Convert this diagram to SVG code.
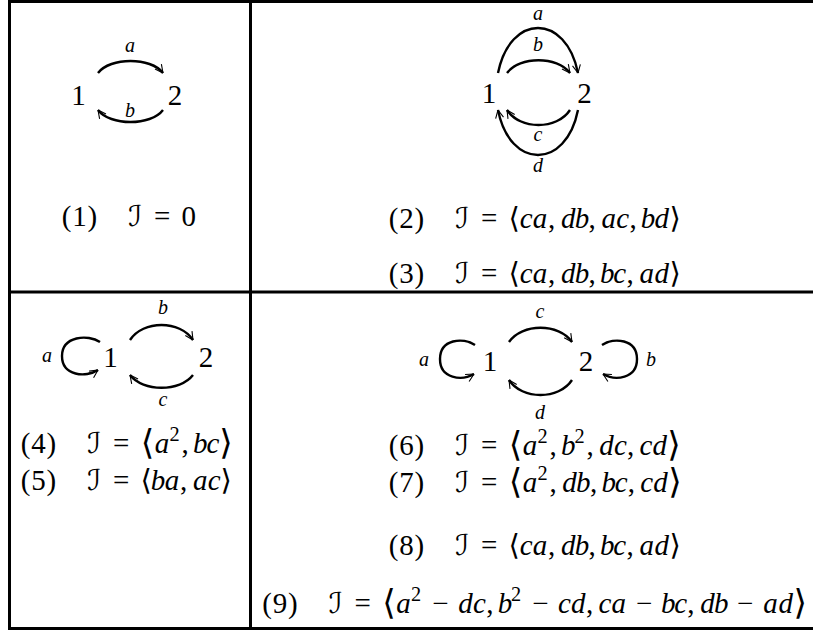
<svg xmlns="http://www.w3.org/2000/svg" width="813" height="630" viewBox="0 0 813 630">
<style>
.bg{fill:#fff}
.frame{stroke:#000;stroke-width:3;fill:none}
.arc{stroke:#000;stroke-width:2.4;fill:none;marker-end:url(#tip)}
.node{font-family:"Liberation Serif","DejaVu Serif",serif;font-size:29px;text-anchor:middle;fill:#000}
.lbl{font-family:"Liberation Serif","DejaVu Serif",serif;font-style:italic;font-size:20px;text-anchor:middle;fill:#000}
.eq{font-family:"Liberation Serif","DejaVu Serif",serif;font-size:28.5px;text-anchor:middle;fill:#000}
.v{font-style:italic}
.sup{font-size:20px}
.cal{font-family:"DejaVu Serif","DejaVu Sans",serif;font-style:italic}
.ang{font-family:"DejaVu Sans","DejaVu Serif",sans-serif;font-weight:200}
.big{font-family:"DejaVu Sans","DejaVu Serif",sans-serif;font-weight:200;font-size:34px}
</style>
<defs>
<marker id="tip" markerUnits="userSpaceOnUse" markerWidth="14" markerHeight="14" viewBox="-10 -7 12 14" refX="0" refY="0" orient="auto">
<path d="M-8,-4 Q-3,-1.5 0,0 M-8,4 Q-3,1.5 0,0" stroke="#000" stroke-width="1.1" fill="none"/>
</marker>
</defs>
<rect class="bg" x="0" y="0" width="813" height="630"/>
<g id="table">
<line class="frame" x1="8" y1="1.5" x2="813" y2="1.5"/>
<line class="frame" x1="9.5" y1="0" x2="9.5" y2="630"/>
<line class="frame" x1="250.5" y1="0" x2="250.5" y2="630"/>
<line class="frame" x1="8" y1="292" x2="813" y2="292"/>
<line class="frame" x1="8" y1="628.5" x2="813" y2="628.5"/>
</g>
<g id="connectors">
<path class="arc" d="M98,73 C110,57 151,57 163,73"/>
<path class="arc" d="M163,110 C151,126 110,126 98,110"/>
<path class="arc" d="M498,73 C510,13 566,13 578,73"/>
<path class="arc" d="M507,73 C520,56 557,56 570,73"/>
<path class="arc" d="M570,110 C557,130 520,130 507,110"/>
<path class="arc" d="M578,110 C566,170 510,170 498,110"/>
<path class="arc" d="M100,342 C88,334 62,336 62,356 C62,376 86,378 98,370"/>
<path class="arc" d="M130,340 C143,320 180,320 193,340"/>
<path class="arc" d="M193,375 C180,392 143,392 130,375"/>
<path class="arc" d="M475,345 C463,337 440,339 440,359 C440,379 462,381 474,374"/>
<path class="arc" d="M602,345 C614,337 637,339 637,359 C637,379 615,381 603,374"/>
<path class="arc" d="M509,342 C522,323 559,323 572,342"/>
<path class="arc" d="M572,380 C559,400 522,400 509,380"/>
</g>
<g id="edge-labels">
<text class="lbl" x="130" y="52">a</text>
<text class="lbl" x="130" y="117">b</text>
<text class="lbl" x="538" y="20">a</text>
<text class="lbl" x="538" y="51">b</text>
<text class="lbl" x="538" y="141">c</text>
<text class="lbl" x="538" y="172">d</text>
<text class="lbl" x="47" y="362">a</text>
<text class="lbl" x="163" y="314">b</text>
<text class="lbl" x="163" y="406">c</text>
<text class="lbl" x="424" y="366">a</text>
<text class="lbl" x="651" y="366">b</text>
<text class="lbl" x="540" y="318">c</text>
<text class="lbl" x="540" y="419">d</text>
</g>
<g id="g1-node1"><text class="node" x="78.5" y="105">1</text></g>
<g id="g1-node2"><text class="node" x="175" y="105">2</text></g>
<g id="g2-node1"><text class="node" x="489" y="103">1</text></g>
<g id="g2-node2"><text class="node" x="584.5" y="103">2</text></g>
<g id="g3-node1"><text class="node" x="110.5" y="367">1</text></g>
<g id="g3-node2"><text class="node" x="206" y="367">2</text></g>
<g id="g4-node1"><text class="node" x="490" y="371">1</text></g>
<g id="g4-node2"><text class="node" x="586" y="371">2</text></g>
<g id="equations">
<g id="eq1" transform="translate(61,226) scale(1.0175)"><text class="eq" y="0"><tspan x="5.5 18.2 30.9">(1)</tspan><tspan class="cal" x="72.7">ℐ</tspan><tspan x="99.5">=</tspan><tspan x="125.6">0</tspan></text></g>
<g id="eq2" transform="translate(388,228) scale(1.0175)"><text class="eq" y="0"><tspan x="5.5 18.2 30.9">(2)</tspan><tspan class="cal" x="72.7">ℐ</tspan><tspan x="99.5">=</tspan><tspan class="ang" x="124">⟨</tspan><tspan class="v" x="135.7 149.4">ca</tspan><tspan x="160.9">,</tspan><tspan class="v" x="177.1 190.6">db</tspan><tspan x="200.7">,</tspan><tspan class="v" x="216.9 230.6">ac</tspan><tspan x="240.8">,</tspan><tspan class="v" x="255.6 269.1">bd</tspan><tspan class="ang" x="282.1">⟩</tspan></text></g>
<g id="eq3" transform="translate(388,283) scale(1.0175)"><text class="eq" y="0"><tspan x="5.5 18.2 30.9">(3)</tspan><tspan class="cal" x="72.7">ℐ</tspan><tspan x="99.5">=</tspan><tspan class="ang" x="124">⟨</tspan><tspan class="v" x="135.7 149.4">ca</tspan><tspan x="160.9">,</tspan><tspan class="v" x="177.1 190.6">db</tspan><tspan x="200.7">,</tspan><tspan class="v" x="215.5 227.8">bc</tspan><tspan x="237.9">,</tspan><tspan class="v" x="254.2 269.1">ad</tspan><tspan class="ang" x="282.1">⟩</tspan></text></g>
<g id="eq4" transform="translate(20,453) scale(1.0175)"><text class="eq" y="0"><tspan x="5.5 18.2 30.9">(4)</tspan><tspan class="cal" x="72.7">ℐ</tspan><tspan x="99.5">=</tspan><tspan class="big" x="125.2" y="1.4">⟨</tspan><tspan class="v" x="139.5" y="0">a</tspan><tspan class="sup" x="152" y="-11.5">2</tspan><tspan x="162.4" y="0">,</tspan><tspan class="v" x="177.2 189.5">bc</tspan><tspan class="big" x="202.4" y="1.4">⟩</tspan></text></g>
<g id="eq5" transform="translate(20,490) scale(1.0175)"><text class="eq" y="0"><tspan x="5.5 18.2 30.9">(5)</tspan><tspan class="cal" x="72.7">ℐ</tspan><tspan x="99.5">=</tspan><tspan class="ang" x="124">⟨</tspan><tspan class="v" x="135.7 149.3">ba</tspan><tspan x="160.8">,</tspan><tspan class="v" x="177.1 190.8">ac</tspan><tspan class="ang" x="202.5">⟩</tspan></text></g>
<g id="eq6" transform="translate(388,455) scale(1.0175)"><text class="eq" y="0"><tspan x="5.5 18.2 30.9">(6)</tspan><tspan class="cal" x="72.7">ℐ</tspan><tspan x="99.5">=</tspan><tspan class="big" x="125.2" y="1.4">⟨</tspan><tspan class="v" x="139.5" y="0">a</tspan><tspan class="sup" x="152" y="-11.5">2</tspan><tspan x="162.4" y="0">,</tspan><tspan class="v" x="177.2">b</tspan><tspan class="sup" x="188.3" y="-11.5">2</tspan><tspan x="198.7" y="0">,</tspan><tspan class="v" x="214.8 228.4">dc</tspan><tspan x="238.5">,</tspan><tspan class="v" x="253.4 267">cd</tspan><tspan class="big" x="281.1" y="1.4">⟩</tspan></text></g>
<g id="eq7" transform="translate(388,492) scale(1.0175)"><text class="eq" y="0"><tspan x="5.5 18.2 30.9">(7)</tspan><tspan class="cal" x="72.7">ℐ</tspan><tspan x="99.5">=</tspan><tspan class="big" x="125.2" y="1.4">⟨</tspan><tspan class="v" x="139.5" y="0">a</tspan><tspan class="sup" x="152" y="-11.5">2</tspan><tspan x="162.4" y="0">,</tspan><tspan class="v" x="178.5 192">db</tspan><tspan x="202.1">,</tspan><tspan class="v" x="216.9 229.2">bc</tspan><tspan x="239.3">,</tspan><tspan class="v" x="254.2 267.8">cd</tspan><tspan class="big" x="282" y="1.4">⟩</tspan></text></g>
<g id="eq8" transform="translate(388,555) scale(1.0175)"><text class="eq" y="0"><tspan x="5.5 18.2 30.9">(8)</tspan><tspan class="cal" x="72.7">ℐ</tspan><tspan x="99.5">=</tspan><tspan class="ang" x="124">⟨</tspan><tspan class="v" x="135.7 149.4">ca</tspan><tspan x="160.9">,</tspan><tspan class="v" x="177.1 190.6">db</tspan><tspan x="200.7">,</tspan><tspan class="v" x="215.5 227.8">bc</tspan><tspan x="237.9">,</tspan><tspan class="v" x="254.2 269.1">ad</tspan><tspan class="ang" x="282.1">⟩</tspan></text></g>
<g id="eq9" transform="translate(261.5,613) scale(1.0175)"><text class="eq" y="0"><tspan x="5.5 18.2 30.9">(9)</tspan><tspan class="cal" x="72.7">ℐ</tspan><tspan x="99.5">=</tspan><tspan class="big" x="125.2" y="1.4">⟨</tspan><tspan class="v" x="139.5" y="0">a</tspan><tspan class="sup" x="152" y="-11.5">2</tspan><tspan x="175.8" y="0">−</tspan><tspan class="v" x="200.6 214.2">dc</tspan><tspan x="224.4">,</tspan><tspan class="v" x="239.2">b</tspan><tspan class="sup" x="250.3" y="-11.5">2</tspan><tspan x="274.1" y="0">−</tspan><tspan class="v" x="297.7 311.3">cd</tspan><tspan x="322.6">,</tspan><tspan class="v" x="337.5 351.2">ca</tspan><tspan x="376.2">−</tspan><tspan class="v" x="399.7 412">bc</tspan><tspan x="422.1">,</tspan><tspan class="v" x="438.3 451.8">db</tspan><tspan x="475.3">−</tspan><tspan class="v" x="500.3 515.2">ad</tspan><tspan class="big" x="529.4" y="1.4">⟩</tspan></text></g>
</g>
</svg>
